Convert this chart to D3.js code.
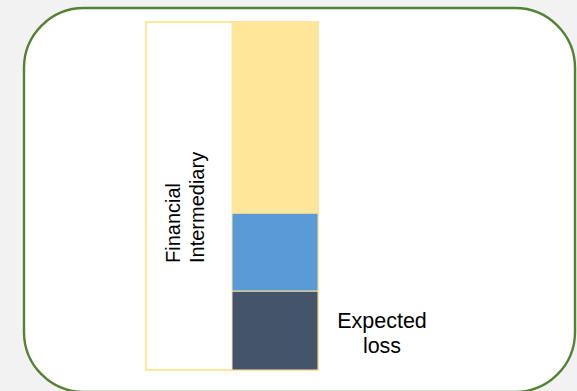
<!DOCTYPE html>
<html>
<head>
<meta charset="utf-8">
<script src="https://cdn.jsdelivr.net/npm/d3@7"></script>
<style>
  html, body { margin: 0; padding: 0; background: #f2f2f2; }
  svg { display: block; }
  text { font-family: "Liberation Sans", Arial, sans-serif; fill: #000; }
</style>
</head>
<body>
<svg id="chart" width="577" height="391"></svg>
<script>
// Capital structure of a financial intermediary, stacked bottom-up
const columns = ["intermediary", "stack"];
const layers = ["Expected loss", "Unexpected loss", "Equity"];
const layerValues = [22.7, 22.4, 54.9];
const layerColors = ["#44546a", "#5b9bd5", "#ffe699"];
const boxLines = ["Financial", "Intermediary"];
const lossLabelLines = ["Expected", "loss"];

const svg = d3.select("#chart");

// Rounded panel
svg.append("rect")
  .attr("x", 24).attr("y", 8)
  .attr("width", 551).attr("height", 384)
  .attr("rx", 60).attr("ry", 60)
  .attr("fill", "#ffffff")
  .attr("stroke", "#548235")
  .attr("stroke-width", 2.4);

const total = d3.sum(layerValues);
const x = d3.scaleBand().domain(columns).range([146, 318]).padding(0);
const y = d3.scaleLinear().domain([0, total]).range([370, 22]);

// Intermediary outline box
svg.append("rect")
  .attr("x", x("intermediary")).attr("y", y(total))
  .attr("width", x.bandwidth() * 2).attr("height", y(0) - y(total))
  .attr("fill", "#ffffff")
  .attr("stroke", "#ffe699")
  .attr("stroke-width", 2);

// Stacked layers
const stacked = [];
let acc = 0;
layerValues.forEach((v, i) => {
  stacked.push({ name: layers[i], y0: acc, y1: acc + v, color: layerColors[i] });
  acc += v;
});

svg.selectAll("rect.layer")
  .data(stacked)
  .join("rect")
  .attr("class", "layer")
  .attr("x", x("stack"))
  .attr("y", d => y(d.y1))
  .attr("width", x.bandwidth())
  .attr("height", d => y(d.y0) - y(d.y1))
  .attr("fill", d => d.color)
  .attr("stroke", "#fbe3a0")
  .attr("stroke-width", 1);

// Rotated box label
const boxLabel = svg.append("text")
  .attr("transform", `translate(180,263) rotate(-90)`)
  .attr("font-size", 20)
  .attr("text-anchor", "start");
boxLabel.selectAll("tspan")
  .data(boxLines)
  .join("tspan")
  .attr("x", 0)
  .attr("dy", (d, i) => i === 0 ? 0 : 24)
  .text(d => d);

// Expected loss label
const lossLayer = stacked[0];
const lossLabel = svg.append("text")
  .attr("font-size", 21.5)
  .attr("text-anchor", "middle")
  .attr("y", (y(lossLayer.y0) + y(lossLayer.y1)) / 2 - 3);
lossLabel.selectAll("tspan")
  .data(lossLabelLines)
  .join("tspan")
  .attr("x", 382)
  .attr("dy", (d, i) => i === 0 ? 0 : 25)
  .text(d => d);
</script>
</body>
</html>
